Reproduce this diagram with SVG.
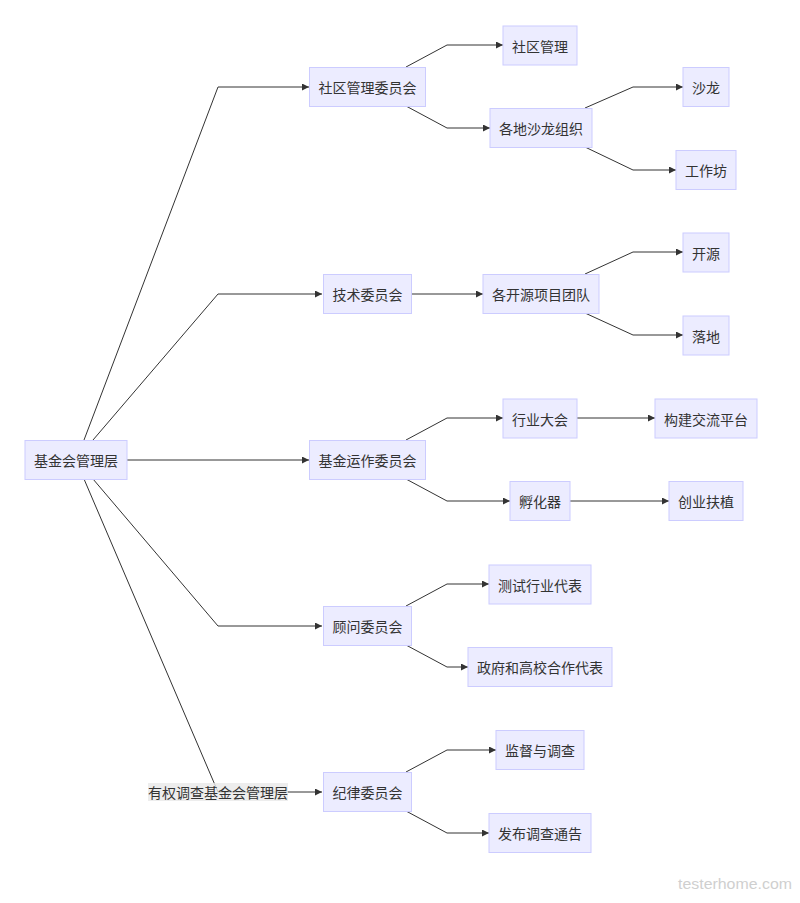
<svg xmlns="http://www.w3.org/2000/svg" width="800" height="903" viewBox="0 0 800 903">
<style>
.node rect{fill:#ECECFF;stroke:#CCCCFF;stroke-width:1}
.node text,.lbl text{font-family:"Noto Sans CJK SC","Noto Sans",sans-serif;font-size:14px;fill:#333;text-anchor:middle;dominant-baseline:central}
.edges path{fill:none;stroke:#333;stroke-width:1;marker-end:url(#arr)}
.wm{font-family:"Liberation Sans",sans-serif;font-size:15px;fill:#cfcfcf}
</style>
<defs>
<marker id="arr" viewBox="0 0 10 10" refX="10" refY="5" markerWidth="7" markerHeight="7" markerUnits="userSpaceOnUse" orient="auto">
<path d="M0,0 L10,5 L0,10 z" fill="#333"/>
</marker>
</defs>
<rect width="800" height="903" fill="#fff"/>
<g class="edges">
<path d="M84,440 L218,87 L309,87"/>
<path d="M93,440 L218,294 L322,294"/>
<path d="M127,460 L309,460"/>
<path d="M93,479 L218,626 L322,626"/>
<path d="M84,479 L218,792 L322,792"/>
<path d="M406,67 L447,45 L503,45"/>
<path d="M406,106 L447,128 L490,128"/>
<path d="M585,108 L633,87 L683,87"/>
<path d="M585,147 L633,170 L676,170"/>
<path d="M411,294 L483,294"/>
<path d="M585,274 L633,252 L683,252"/>
<path d="M585,313 L633,335 L683,335"/>
<path d="M406,440 L447,418 L503,418"/>
<path d="M406,479 L447,501 L510,501"/>
<path d="M577,418 L655,418"/>
<path d="M570,501 L669,501"/>
<path d="M406,606 L447,584 L489,584"/>
<path d="M406,645 L447,667 L468,667"/>
<path d="M406,772 L447,750 L496,750"/>
<path d="M406,811 L447,833 L489,833"/>
</g>
<g class="lbl" id="edge-label">
<rect x="148" y="783" width="140" height="18" fill="#e8e8e8" opacity="0.8"/>
<text x="218" y="792">有权调查基金会管理层</text>
</g>
<g class="node" id="n-root"><rect x="25" y="440.5" width="102" height="39"/><text x="76" y="460">基金会管理层</text></g>
<g class="node" id="n-community"><rect x="309.5" y="67.5" width="116" height="39"/><text x="367.5" y="87">社区管理委员会</text></g>
<g class="node" id="n-cm"><rect x="503" y="26" width="74" height="39"/><text x="540" y="45.5">社区管理</text></g>
<g class="node" id="n-salon-org"><rect x="490" y="108.5" width="102" height="39"/><text x="541" y="128">各地沙龙组织</text></g>
<g class="node" id="n-salon"><rect x="683" y="67.5" width="46" height="39"/><text x="706" y="87">沙龙</text></g>
<g class="node" id="n-workshop"><rect x="676" y="150.5" width="60" height="39"/><text x="706" y="170">工作坊</text></g>
<g class="node" id="n-tech"><rect x="323.5" y="274.5" width="88" height="39"/><text x="367.5" y="294">技术委员会</text></g>
<g class="node" id="n-oss-team"><rect x="483" y="274.5" width="116" height="39"/><text x="541" y="294">各开源项目团队</text></g>
<g class="node" id="n-oss"><rect x="683" y="233" width="46" height="39"/><text x="706" y="252.5">开源</text></g>
<g class="node" id="n-land"><rect x="683" y="316" width="46" height="39"/><text x="706" y="335.5">落地</text></g>
<g class="node" id="n-fund"><rect x="309.5" y="440.5" width="116" height="39"/><text x="367.5" y="460">基金运作委员会</text></g>
<g class="node" id="n-conf"><rect x="503" y="399" width="74" height="39"/><text x="540" y="418.5">行业大会</text></g>
<g class="node" id="n-platform"><rect x="655" y="399" width="102" height="39"/><text x="706" y="418.5">构建交流平台</text></g>
<g class="node" id="n-incubator"><rect x="510" y="481.5" width="60" height="39"/><text x="540" y="501">孵化器</text></g>
<g class="node" id="n-startup"><rect x="669" y="481.5" width="74" height="39"/><text x="706" y="501">创业扶植</text></g>
<g class="node" id="n-advisor"><rect x="323.5" y="606.5" width="88" height="39"/><text x="367.5" y="626">顾问委员会</text></g>
<g class="node" id="n-testrep"><rect x="489" y="565" width="102" height="39"/><text x="540" y="584.5">测试行业代表</text></g>
<g class="node" id="n-govrep"><rect x="468" y="647.5" width="144" height="39"/><text x="540" y="667">政府和高校合作代表</text></g>
<g class="node" id="n-discipline"><rect x="323.5" y="772.5" width="88" height="39"/><text x="367.5" y="792">纪律委员会</text></g>
<g class="node" id="n-supervise"><rect x="496" y="730.5" width="88" height="39"/><text x="540" y="750">监督与调查</text></g>
<g class="node" id="n-notice"><rect x="489" y="813.5" width="102" height="39"/><text x="540" y="833">发布调查通告</text></g>
<text class="wm" x="678" y="889" textLength="114" lengthAdjust="spacingAndGlyphs">testerhome.com</text>
</svg>
